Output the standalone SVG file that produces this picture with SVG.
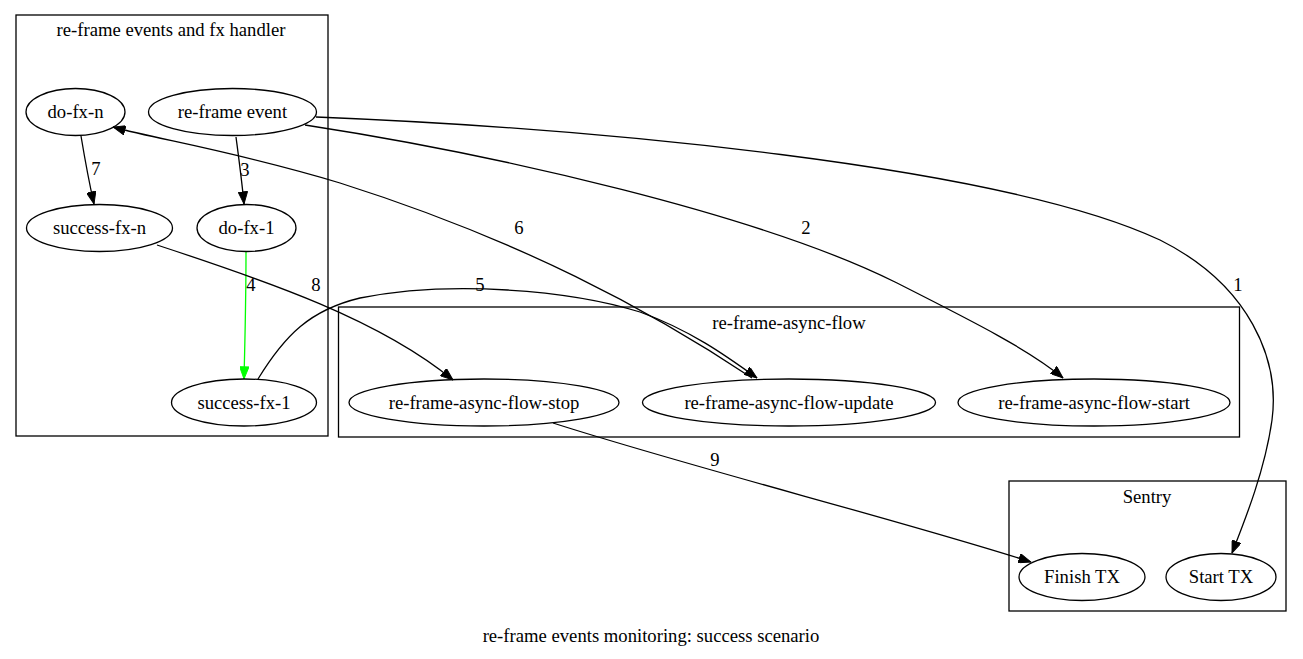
<svg xmlns="http://www.w3.org/2000/svg" width="1303" height="659" viewBox="0 0 1303 659">
<style>
text{font-family:"Liberation Serif","Times New Roman",serif;font-size:18.67px;fill:#000;text-anchor:middle}
.cl{fill:none;stroke:#000;stroke-width:1.3}
.nd{fill:none;stroke:#000;stroke-width:1.3}
.ed{fill:none;stroke:#000;stroke-width:1.3}
</style>
<defs>
<marker id="ah" viewBox="0 0 13 10" refX="13" refY="5" markerWidth="13" markerHeight="9.4" markerUnits="userSpaceOnUse" orient="auto"><path d="M0,0 L13,5 L0,10 z" fill="#000" stroke="#000" stroke-width="1"/></marker>
<marker id="ahg" viewBox="0 0 13 10" refX="13" refY="5" markerWidth="13" markerHeight="9.4" markerUnits="userSpaceOnUse" orient="auto"><path d="M0,0 L13,5 L0,10 z" fill="#00ff00" stroke="#00ff00" stroke-width="1"/></marker>
</defs>
<rect width="1303" height="659" fill="#fff"/>
<g id="cluster_handler"><rect class="cl" x="16" y="15" width="312" height="421"/><text x="171" y="36">re-frame events and fx handler</text></g>
<g id="cluster_async"><rect class="cl" x="338.5" y="307" width="901" height="130"/><text x="789" y="329">re-frame-async-flow</text></g>
<g id="cluster_sentry"><rect class="cl" x="1009" y="481" width="277" height="130"/><text x="1147" y="503">Sentry</text></g>
<g id="connectors">
<path class="ed" d="M316,117 C590,128 1000,165 1160,240 C1250,285 1280,360 1272,420 C1265,470 1245,520 1232,553" marker-end="url(#ah)"/>
<text x="1238" y="291">1</text>
<path class="ed" d="M305,125 C500,155 760,215 895,282 C970,320 1030,350 1063,378" marker-end="url(#ah)"/>
<text x="806" y="234">2</text>
<path class="ed" d="M236,137 C239,160 242,182 244,204" marker-end="url(#ah)"/>
<text x="245" y="176">3</text>
<path d="M246,252 C246,300 245,340 244,379" fill="none" stroke="#00ff00" stroke-width="1.3" marker-end="url(#ahg)"/>
<text x="251" y="291">4</text>
<path class="ed" d="M258,379 C285,335 310,310 360,298 C450,280 570,290 640,312 C690,330 725,355 757,378" marker-end="url(#ah)"/>
<text x="480" y="291">5</text>
<path class="ed" d="M752,378 C650,310 520,240 340,183 C230,150 160,140 113,127" marker-end="url(#ah)"/>
<text x="519" y="234">6</text>
<path class="ed" d="M81,136 C85,160 89,182 94,204" marker-end="url(#ah)"/>
<text x="96" y="175">7</text>
<path class="ed" d="M157,245 C270,282 380,320 453,380" marker-end="url(#ah)"/>
<text x="316" y="291">8</text>
<path class="ed" d="M553,423 C700,470 900,520 1031,562" marker-end="url(#ah)"/>
<text x="715" y="466">9</text>
</g>
<g id="node_do_fx_n"><ellipse class="nd" cx="75.5" cy="112" rx="49.5" ry="23.5"/><text x="75.5" y="118">do-fx-n</text></g>
<g id="node_event"><ellipse class="nd" cx="232.5" cy="112" rx="84" ry="23.5"/><text x="232.5" y="118">re-frame event</text></g>
<g id="node_success_fx_n"><ellipse class="nd" cx="99.5" cy="228" rx="73" ry="23.5"/><text x="99.5" y="234">success-fx-n</text></g>
<g id="node_do_fx_1"><ellipse class="nd" cx="246.5" cy="228" rx="49.5" ry="23.5"/><text x="246.5" y="234">do-fx-1</text></g>
<g id="node_success_fx_1"><ellipse class="nd" cx="244" cy="402.5" rx="72.5" ry="23.5"/><text x="244" y="409">success-fx-1</text></g>
<g id="node_stop"><ellipse class="nd" cx="484" cy="402.5" rx="135" ry="23.5"/><text x="484" y="409">re-frame-async-flow-stop</text></g>
<g id="node_update"><ellipse class="nd" cx="789" cy="402.5" rx="146.5" ry="23.5"/><text x="789" y="409">re-frame-async-flow-update</text></g>
<g id="node_start"><ellipse class="nd" cx="1094" cy="402.5" rx="136" ry="23.5"/><text x="1094" y="409">re-frame-async-flow-start</text></g>
<g id="node_finish_tx"><ellipse class="nd" cx="1082" cy="577" rx="63" ry="23.5"/><text x="1082" y="583">Finish TX</text></g>
<g id="node_start_tx"><ellipse class="nd" cx="1221" cy="577" rx="55" ry="23.5"/><text x="1221" y="583">Start TX</text></g>
<text x="651" y="642">re-frame events monitoring: success scenario</text>
</svg>
